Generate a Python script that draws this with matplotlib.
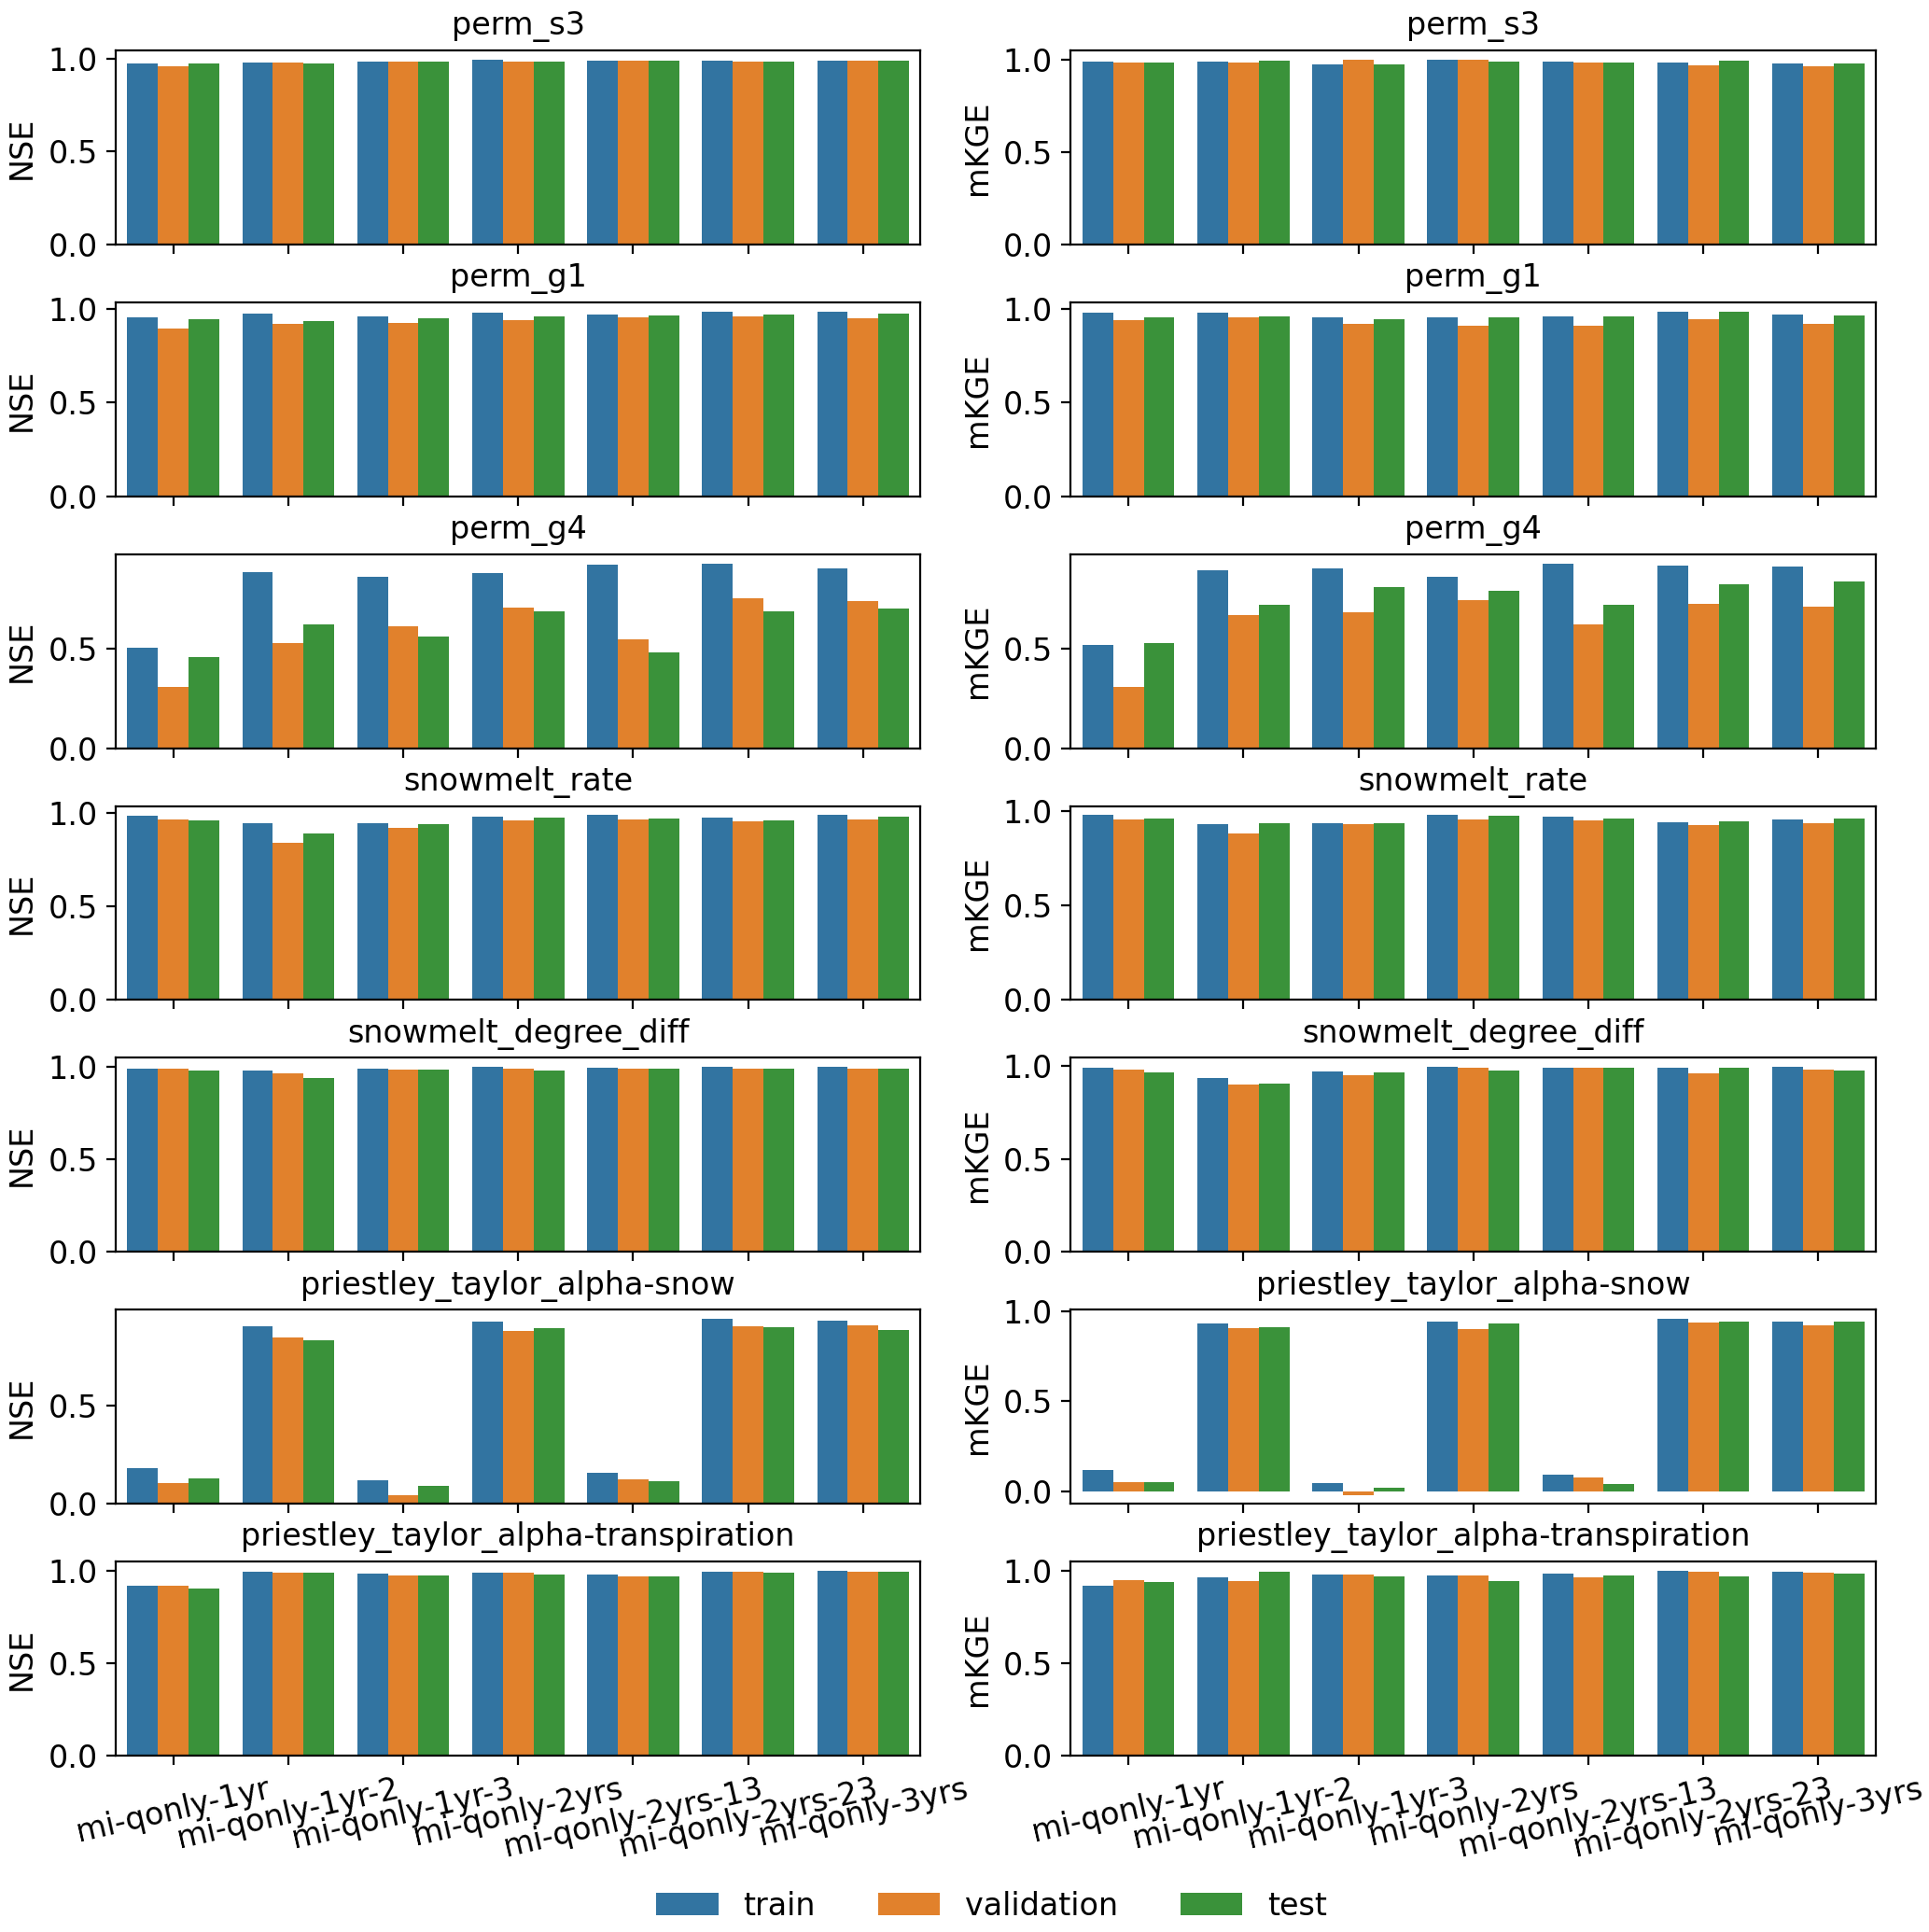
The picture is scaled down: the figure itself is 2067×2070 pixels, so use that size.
import numpy as np
import pandas as pd
import seaborn as sns
from matplotlib import pyplot as plt

plt.rcParams['font.size'] = 12
plt.rcParams['axes.titlesize'] = 12

models = ['mi-qonly-1yr', 'mi-qonly-1yr-2', 'mi-qonly-1yr-3', 'mi-qonly-2yrs',
          'mi-qonly-2yrs-13', 'mi-qonly-2yrs-23', 'mi-qonly-3yrs']
splits = ['train', 'validation', 'test']
params = ['perm_s3', 'perm_g1', 'perm_g4', 'snowmelt_rate', 'snowmelt_degree_diff',
          'priestley_taylor_alpha-snow', 'priestley_taylor_alpha-transpiration']

# rows: train, validation, test ; columns: models
nse_perm_s3 = [[0.973, 0.982, 0.986, 0.995, 0.991, 0.988, 0.991],
               [0.958, 0.982, 0.986, 0.986, 0.991, 0.986, 0.991],
               [0.973, 0.973, 0.986, 0.986, 0.991, 0.986, 0.988]]
nse_perm_g1 = [[0.955, 0.974, 0.956, 0.979, 0.970, 0.984, 0.983],
               [0.894, 0.918, 0.923, 0.939, 0.951, 0.960, 0.948],
               [0.941, 0.932, 0.948, 0.960, 0.962, 0.967, 0.974]]
nse_perm_g4 = [[0.505, 0.887, 0.865, 0.884, 0.926, 0.932, 0.909],
               [0.307, 0.530, 0.616, 0.709, 0.549, 0.758, 0.744],
               [0.461, 0.626, 0.563, 0.692, 0.483, 0.692, 0.704]]
nse_snow_rate = [[0.985, 0.946, 0.944, 0.980, 0.988, 0.975, 0.988],
                 [0.963, 0.843, 0.919, 0.959, 0.964, 0.954, 0.963],
                 [0.959, 0.890, 0.939, 0.973, 0.968, 0.959, 0.981]]
nse_snow_degree = [[0.991, 0.981, 0.991, 0.998, 0.995, 0.998, 0.998],
                   [0.990, 0.962, 0.986, 0.991, 0.988, 0.988, 0.991],
                   [0.981, 0.938, 0.983, 0.981, 0.988, 0.991, 0.991]]
nse_pt_snow = [[0.181, 0.906, 0.120, 0.928, 0.160, 0.942, 0.933],
               [0.104, 0.847, 0.043, 0.880, 0.123, 0.907, 0.911],
               [0.131, 0.834, 0.093, 0.895, 0.117, 0.898, 0.887]]
nse_pt_transp = [[0.917, 0.992, 0.981, 0.988, 0.980, 0.995, 0.998],
                 [0.917, 0.987, 0.973, 0.987, 0.970, 0.993, 0.992],
                 [0.904, 0.988, 0.973, 0.978, 0.968, 0.988, 0.992]]

mkge_perm_s3 = [[0.986, 0.989, 0.973, 0.998, 0.989, 0.984, 0.975],
                [0.980, 0.980, 0.996, 0.996, 0.980, 0.968, 0.961],
                [0.980, 0.991, 0.970, 0.986, 0.984, 0.991, 0.975]]
mkge_perm_g1 = [[0.977, 0.977, 0.951, 0.955, 0.956, 0.983, 0.969],
                [0.939, 0.951, 0.918, 0.908, 0.906, 0.944, 0.918],
                [0.955, 0.960, 0.942, 0.955, 0.960, 0.984, 0.965]]
mkge_perm_g4 = [[0.519, 0.895, 0.907, 0.866, 0.932, 0.921, 0.917],
                [0.311, 0.671, 0.686, 0.748, 0.623, 0.726, 0.712],
                [0.528, 0.725, 0.813, 0.794, 0.725, 0.825, 0.843]]
mkge_snow_rate = [[0.978, 0.930, 0.938, 0.978, 0.970, 0.943, 0.958],
                  [0.955, 0.881, 0.933, 0.958, 0.951, 0.924, 0.938],
                  [0.961, 0.938, 0.938, 0.975, 0.961, 0.948, 0.961]]
mkge_snow_degree = [[0.990, 0.933, 0.969, 0.993, 0.988, 0.990, 0.993],
                    [0.978, 0.901, 0.951, 0.988, 0.991, 0.959, 0.980],
                    [0.964, 0.903, 0.966, 0.973, 0.988, 0.988, 0.973]]
mkge_pt_snow = [[0.116, 0.932, 0.045, 0.943, 0.094, 0.958, 0.943],
                [0.049, 0.905, -0.021, 0.898, 0.075, 0.934, 0.918],
                [0.050, 0.908, 0.021, 0.931, 0.042, 0.941, 0.939]]
mkge_pt_transp = [[0.919, 0.963, 0.976, 0.973, 0.985, 0.998, 0.993],
                  [0.949, 0.943, 0.980, 0.975, 0.961, 0.995, 0.986],
                  [0.937, 0.992, 0.968, 0.941, 0.973, 0.970, 0.983]]

nse_all = [nse_perm_s3, nse_perm_g1, nse_perm_g4, nse_snow_rate,
           nse_snow_degree, nse_pt_snow, nse_pt_transp]
mkge_all = [mkge_perm_s3, mkge_perm_g1, mkge_perm_g4, mkge_snow_rate,
            mkge_snow_degree, mkge_pt_snow, mkge_pt_transp]


def to_frame(vals):
    rows = []
    for s, split in enumerate(splits):
        for m, model in enumerate(models):
            rows.append({'model': model, 'split': split, 'value': vals[s][m]})
    return pd.DataFrame(rows)


fig, axes = plt.subplots(7, 2, figsize=(10.335, 10.35), dpi=200)
fig.subplots_adjust(left=0.06, right=0.9724, top=0.9739, bottom=0.0913,
                    wspace=0.1867, hspace=0.298)

for i, p in enumerate(params):
    for j, (vals, metric) in enumerate([(nse_all[i], 'NSE'), (mkge_all[i], 'mKGE')]):
        ax = axes[i, j]
        sns.barplot(data=to_frame(vals), x='model', y='value', hue='split',
                    order=models, hue_order=splits, errorbar=None, ax=ax)
        handles, labels = ax.get_legend_handles_labels()
        ax.legend_.remove()
        ax.set_title(p)
        ax.set_ylabel(metric)
        ax.set_xlabel('')
        if i < len(params) - 1:
            ax.tick_params(labelbottom=False)
        else:
            ax.tick_params(axis='x', labelrotation=13)

fig.legend(handles, labels, loc='center', ncol=3, frameon=False,
           bbox_to_anchor=(0.514, 1 - 2042 / 2070))

fig.savefig('out.png', dpi=200)
